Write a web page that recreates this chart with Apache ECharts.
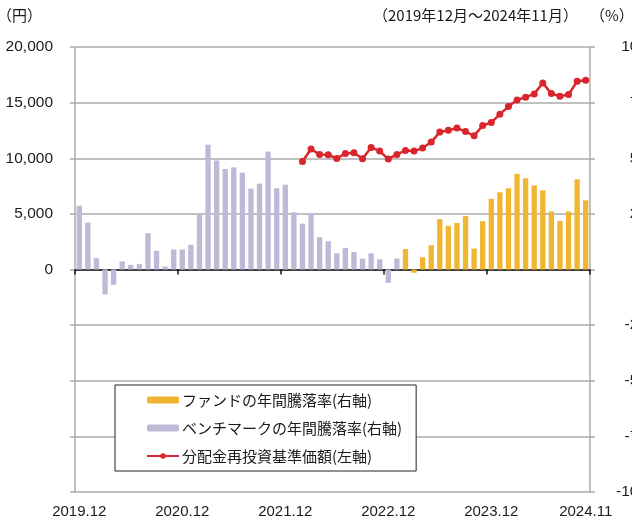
<!DOCTYPE html>
<html>
<head>
<meta charset="utf-8">
<script src="https://cdn.jsdelivr.net/npm/echarts@6/dist/echarts.min.js"></script>
<style>
html,body{margin:0;padding:0;background:#fff;}
#chart{width:632px;height:524px;}
</style>
</head>
<body>
<div id="chart"></div>
<script>
// Categories: monthly from 2019.12 to 2024.11
const categories = [];
(function(){
  let y = 2019, m = 12;
  for (let i = 0; i < 60; i++) {
    categories.push(y + '.' + (m < 10 ? '0' + m : '' + m));
    m++; if (m > 12) { m = 1; y++; }
  }
})();
const xTickLabels = {0:'2019.12', 12:'2020.12', 24:'2021.12', 36:'2022.12', 48:'2023.12', 59:'2024.11'};

// Benchmark annual return (%), right axis
const benchmarkValues = [
  28.7, 21.1, 5.1, -11.2, -6.9, 3.6, 2.1, 2.5, 16.3, 8.4, 1.3, 9.0,
  9.0, 11.1, 24.7, 56.1, 49.0, 45.2, 45.9, 43.5, 36.3, 38.6, 53.0, 36.5,
  38.1, 25.7, 20.6, 25.4, 14.5, 12.7, 7.3, 9.7, 7.9, 4.9, 7.3, 4.6,
  -6.0, 4.9, null, null, null, null, null, null, null, null, null, null,
  null, null, null, null, null, null, null, null, null, null, null, null
];
// Fund annual return (%), right axis
const fundValues = [
  null, null, null, null, null, null, null, null, null, null, null, null,
  null, null, null, null, null, null, null, null, null, null, null, null,
  null, null, null, null, null, null, null, null, null, null, null, null,
  null, null, 9.2, -1.5, 5.5, 10.9, 22.6, 19.6, 20.9, 24.0, 9.4, 21.7,
  31.8, 34.7, 36.5, 43.0, 41.0, 37.8, 35.6, 26.1, 21.8, 26.1, 40.5, 31.1
];
// NAV with dividends reinvested (yen), left axis
const navValues = [
  null, null, null, null, null, null, null, null, null, null, null, null,
  null, null, null, null, null, null, null, null, null, null, null, null,
  null, null, 9713, 10825, 10341, 10314, 9982, 10430, 10493, 9955, 10969, 10646,
  9928, 10341, 10700, 10646, 10915, 11453, 12350, 12510, 12709, 12404, 12018, 12942,
  13211, 13964, 14646, 15247, 15489, 15785, 16771, 15812, 15578, 15722, 16924, 17013
];
const leftTicks = {min: -20000, max: 20000, interval: 5000};
const rightTicks = {min: -100, max: 100, interval: 25};

const names = ['ファンドの年間騰落率(右軸)', 'ベンチマークの年間騰落率(右軸)', '分配金再投資基準価額(左軸)'];
const jp = '"Noto Sans CJK JP", sans-serif';
const num = '"Liberation Sans", Arial, sans-serif';
const gridGrey = '#ABABAB';

const chart = echarts.init(document.getElementById('chart'), null, {renderer: 'canvas'});
chart.setOption({
  animation: false,
  backgroundColor: '#ffffff',
  textStyle: {fontFamily: jp, color: '#1a1a1a'},
  grid: {left: 75, right: 42, top: 47, bottom: 32, containLabel: false, outerBoundsMode: 'none'},
  graphic: [
    {type: 'text', left: -3, top: 8, style: {text: '（円）', font: '15px ' + jp, fill: '#1a1a1a'}},
    {type: 'text', left: 373, top: 8, style: {text: '（2019年12月～2024年11月）', font: '15px ' + jp, fill: '#1a1a1a'}},
    {type: 'text', left: 590, top: 8, style: {text: '（%）', font: '15px ' + jp, fill: '#1a1a1a'}}
  ],
  legend: {
    orient: 'vertical',
    left: 115, top: 385,
    padding: [6, 14, 6, 31],
    backgroundColor: '#ffffff',
    borderColor: '#222222',
    borderWidth: 1,
    borderRadius: 0,
    itemWidth: 32, itemHeight: 7, itemGap: 10,
    data: names,
    textStyle: {fontSize: 15, fontFamily: jp, color: '#1a1a1a', lineHeight: 18, padding: [0, 0, 0, -2]}
  },
  xAxis: [
    {
      type: 'category', data: categories, position: 'bottom', boundaryGap: true,
      axisLine: {show: false, onZero: false},
      axisTick: {show: false},
      axisLabel: {
        interval: function (i) { return xTickLabels[i] !== undefined; },
        formatter: function (v, i) { return xTickLabels[i] || ''; },
        fontSize: 15, fontFamily: num, color: '#1a1a1a', margin: 12
      },
      splitLine: {show: false}
    },
    {
      type: 'category', data: categories, position: 'top', boundaryGap: true,
      axisLine: {show: true, onZero: true, onZeroAxisIndex: 0, lineStyle: {color: '#111111', width: 1.5}},
      axisTick: {show: true, inside: true, length: 5, interval: function (i) { return i % 12 === 0; }, lineStyle: {color: '#111111', width: 1.5}},
      axisLabel: {show: false},
      splitLine: {show: false}
    }
  ],
  yAxis: [
    {
      type: 'value', position: 'left',
      min: leftTicks.min, max: leftTicks.max, interval: leftTicks.interval,
      axisLine: {show: true, lineStyle: {color: gridGrey, width: 1.5}},
      axisTick: {show: true, length: 5, lineStyle: {color: gridGrey, width: 1.5}},
      splitLine: {show: true, lineStyle: {color: gridGrey, width: 1.5}},
      axisLabel: {
        formatter: function (v) { return v >= 0 ? v.toLocaleString('en-US') : ''; },
        fontSize: 15.5, fontFamily: num, color: '#1a1a1a', margin: 22
      }
    },
    {
      type: 'value', position: 'right',
      min: rightTicks.min, max: rightTicks.max, interval: rightTicks.interval,
      axisLine: {show: true, lineStyle: {color: gridGrey, width: 1.5}},
      axisTick: {show: true, length: 5, lineStyle: {color: gridGrey, width: 1.5}},
      splitLine: {show: false},
      axisLabel: {fontSize: 15.5, fontFamily: num, color: '#1a1a1a', margin: 57, align: 'right'}
    }
  ],
  series: [
    {
      name: names[0], type: 'bar', xAxisIndex: 0, yAxisIndex: 1,
      data: fundValues, barWidth: '62%', barGap: '-100%',
      itemStyle: {color: '#F0B531'}, z: 2
    },
    {
      name: names[1], type: 'bar', xAxisIndex: 0, yAxisIndex: 1,
      data: benchmarkValues, barWidth: '62%', barGap: '-100%',
      itemStyle: {color: '#BDB9D6'}, z: 2
    },
    {
      name: names[2], type: 'line', xAxisIndex: 0, yAxisIndex: 0,
      data: navValues, symbol: 'circle', symbolSize: 7, showSymbol: true, showAllSymbol: true,
      lineStyle: {color: '#D9252B', width: 2.5},
      itemStyle: {color: '#D9252B'}, z: 5
    }
  ]
});
</script>
</body>
</html>
